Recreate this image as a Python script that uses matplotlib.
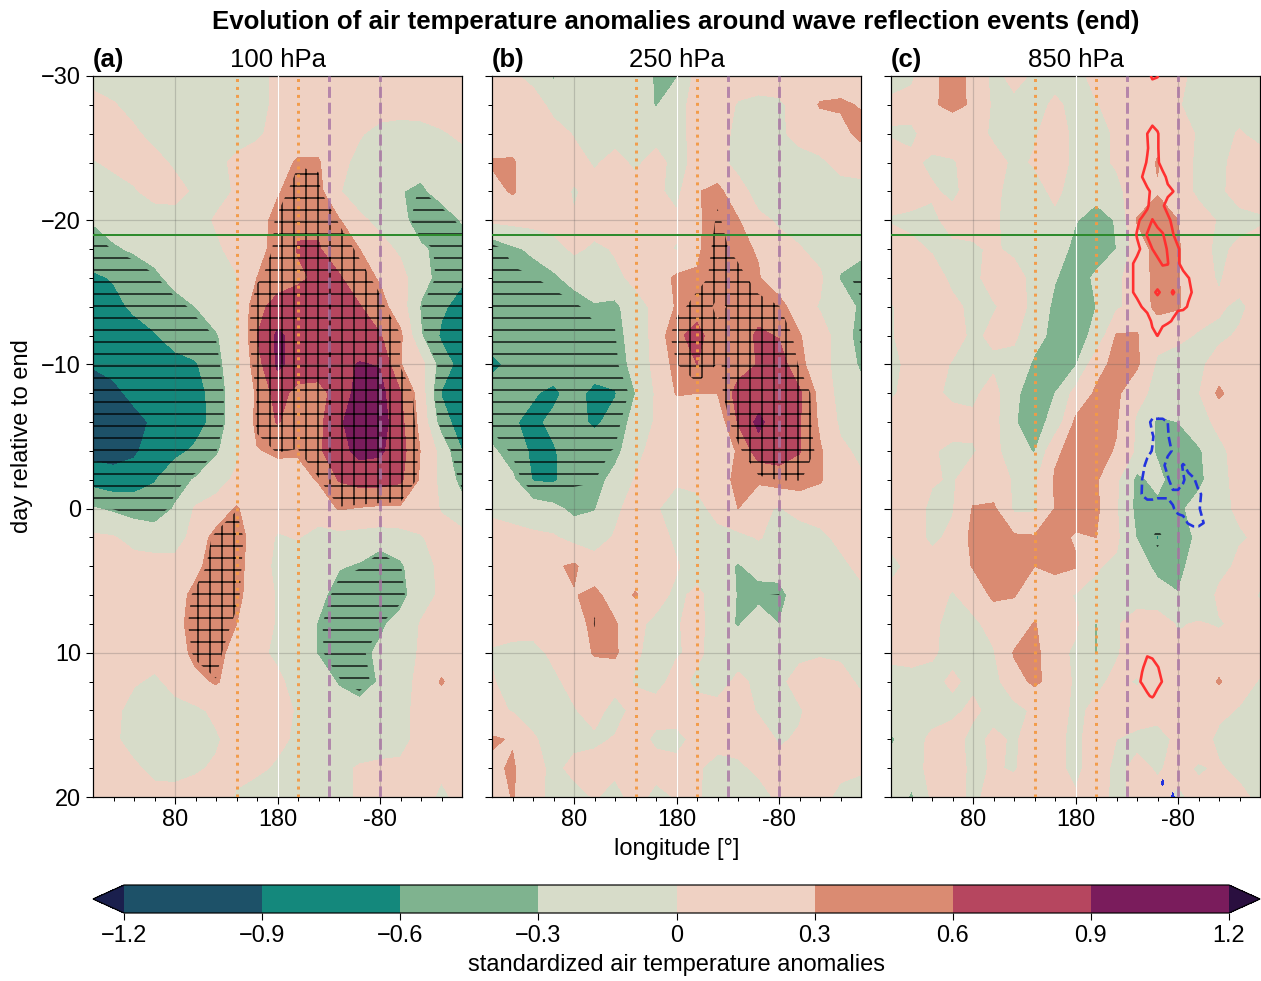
import numpy as np
import matplotlib
matplotlib.use('Agg')
import matplotlib.pyplot as plt
from matplotlib.colors import ListedColormap, BoundaryNorm

plt.rcParams['font.family'] = ['Liberation Sans', 'DejaVu Sans']
plt.rcParams['hatch.linewidth'] = 1.3
plt.rcParams['axes.linewidth'] = 1.2

lon = [0, 20, 40, 60, 80, 100, 120, 140, 160, 180, 200, 220, 240, 260, 280, 300, 320, 340, 360]
day = [-30, -28, -26, -24, -22, -20, -18, -16, -14, -12, -10, -8, -6, -4, -2, 0, 2, 4, 6, 8, 10, 12, 14, 16, 18, 20]

# 100 hPa
temp_100 = [
    [-.1, -.15, -.15, -.15, -.15, -.15, -.15, -.15, -.15, .1, .15, .15, .15, .15, .15, .15, .15, .12, -.02],
    [.1, .02, -.1, -.15, -.15, -.15, -.15, -.15, -.15, .1, .15, .2, .15, .15, .15, .15, .15, .15, .15],
    [.15, .15, .05, -.1, -.15, -.15, -.15, -.15, -.05, .1, .15, .2, .15, .03, -.1, -.15, -.12, -.03, .05],
    [-.02, .05, .12, .1, -.05, -.15, -.1, .08, .15, .2, .33, .32, .1, -.1, -.15, -.2, -.2, -.15, -.1],
    [-.12, -.1, -.03, .1, .1, -.05, -.1, .03, .15, .28, .4, .38, .02, -.15, -.18, -.29, -.35, -.2, -.15],
    [-.28, -.2, -.15, -.15, -.12, -.12, .03, .12, .22, .36, .55, .55, .32, .06, -.08, -.18, -.5, -.45, -.28],
    [-.42, -.33, -.27, -.2, -.15, -.12, -.05, .1, .22, .38, .62, .62, .45, .3, .1, -.05, -.25, -.4, -.45],
    [-.65, -.58, -.45, -.36, -.22, -.15, -.1, -.02, .3, .45, .55, .65, .63, .42, .27, .1, -.2, -.4, -.55],
    [-.72, -.68, -.55, -.48, -.4, -.3, -.15, -.03, .5, .72, .75, .75, .75, .62, .4, .15, -.33, -.55, -.72],
    [-.85, -.8, -.72, -.62, -.5, -.42, -.33, -.1, .6, .95, .8, .78, .78, .7, .62, .35, -.28, -.65, -.7],
    [-.88, -.8, -.75, -.72, -.68, -.63, -.4, -.1, .48, .95, .8, .75, .8, .92, .88, .31, .1, -.45, -.72],
    [-1.02, -.98, -.82, -.78, -.75, -.7, -.5, -.08, .35, .72, .5, .5, .72, 1.02, 1.0, .62, .15, -.62, -.88],
    [-1.08, -1.05, -1.0, -.85, -.78, -.72, -.5, -.08, .38, .62, .45, .52, .85, 1.08, 1.05, .68, .2, -.45, -.78],
    [-1.0, -1.0, -.95, -.75, -.68, -.55, -.35, -.06, .28, .35, .33, .55, .8, .98, .95, .72, .28, -.1, -.6],
    [-.72, -.8, -.75, -.62, -.4, -.28, -.1, .05, .12, .15, .2, .32, .62, .72, .72, .65, .25, -.08, -.4],
    [-.28, -.35, -.42, -.45, -.28, .03, .1, .33, .1, .1, .1, .15, .32, .28, .25, .25, .15, -.02, -.2],
    [.05, .02, -.1, -.15, -.15, .12, .4, .45, .12, -.02, .01, -.1, -.1, -.12, -.15, -.12, -.02, .1, .1],
    [.12, .12, .12, .12, .12, .22, .45, .42, .1, -.05, -.1, -.15, -.28, -.33, -.5, -.35, -.1, .05, .1],
    [.12, .15, .15, .15, .18, .38, .5, .38, .12, -.02, -.12, -.22, -.42, -.45, -.48, -.4, -.12, .05, .1],
    [.12, .12, .12, .12, .2, .42, .45, .3, .1, -.02, -.1, -.32, -.42, -.45, -.35, -.2, .02, .1, .1],
    [.12, .12, .12, .12, .15, .38, .42, .15, .06, -.05, -.15, -.32, -.4, -.38, -.25, -.12, .03, .1, .1],
    [.12, .12, .03, -.05, .08, .22, .33, .15, .1, .05, -.1, -.15, -.33, -.4, -.28, -.12, .08, .33, .1],
    [.12, .08, -.12, -.15, -.08, -.05, .05, .12, .12, .1, -.03, -.12, -.15, -.22, -.12, -.05, .05, .1, .1],
    [.12, .05, -.12, -.15, -.15, -.15, -.03, .1, .1, .05, -.04, -.12, -.12, -.12, -.12, -.08, .08, .12, .1],
    [.12, .1, .05, -.08, -.1, -.03, .03, .05, .04, -.03, -.1, -.1, -.05, .02, .05, .05, .1, .05, .1],
    [.1, .1, .1, .1, .1, .1, .1, -.02, -.1, -.1, -.12, -.1, -.08, .03, .1, .1, .1, -.05, .08],
]

# 250 hPa
temp_250 = [
    [.05, .05, -.1, -.33, -.12, -.15, -.15, -.15, -.33, -.32, .1, .15, .12, .15, .15, .2, .15, .15, .15],
    [.08, .12, .15, -.1, -.12, -.12, -.12, -.12, -.32, -.12, .12, .12, -.02, -.08, -.05, .12, .32, .34, .28],
    [.1, .15, .15, .12, -.02, -.1, -.1, -.1, -.1, -.08, .08, .08, -.05, -.1, -.06, .1, .15, .2, .38],
    [.33, .33, .15, .15, .1, -.03, .08, -.05, .1, -.1, .08, .08, -.08, -.15, -.15, -.12, -.05, .08, .1],
    [.2, .33, .15, .15, -.03, .1, .1, .1, .05, -.08, .28, .38, .1, -.1, -.15, -.25, -.12, -.1, -.08],
    [.05, .08, .1, .12, .02, .12, .12, .12, .08, .05, .25, .43, .32, .05, -.03, -.12, -.15, -.15, -.25],
    [-.5, -.35, -.25, -.12, .05, -.05, .02, .1, .1, -.02, .25, .48, .35, .28, .08, .02, -.1, -.15, -.2],
    [-.48, -.45, -.42, -.35, -.2, -.12, -.05, .05, .15, .35, .33, .48, .48, .32, .1, .08, .05, -.33, -.48],
    [-.5, -.5, -.5, -.5, -.45, -.33, -.38, -.08, .05, .33, .5, .38, .45, .48, .42, .1, -.02, -.08, -.38],
    [-.5, -.5, -.5, -.52, -.5, -.48, -.42, -.15, .08, .55, .68, .45, .45, .65, .58, .32, .1, -.1, -.45],
    [-.65, -.55, -.48, -.48, -.48, -.45, -.45, -.2, .08, .4, .6, .4, .45, .62, .75, .38, .1, -.1, -.35],
    [-.5, -.55, -.58, -.65, -.5, -.68, -.62, -.3, .03, .32, .3, .3, .72, .72, .72, .65, .2, -.1, -.2],
    [-.48, -.58, -.65, -.55, -.5, -.65, -.5, -.18, .03, .1, .05, .1, .62, .98, .7, .62, .25, -.05, -.28],
    [-.25, -.45, -.65, -.62, -.5, -.45, -.4, -.08, .1, .1, .1, .1, .33, .75, .78, .62, .33, .05, -.05],
    [-.1, -.25, -.62, -.65, -.42, -.42, -.2, .02, .05, .03, .08, .15, .38, .35, .42, .42, .33, .1, .03],
    [-.05, -.12, -.15, -.22, -.38, -.32, -.05, .1, .02, -.1, -.1, .1, .3, .05, -.02, .1, .1, .12, .25],
    [.1, .1, .05, .03, -.1, -.1, .02, .1, .1, -.05, -.1, -.1, -.08, .02, -.1, -.15, -.05, .05, .1],
    [.1, .12, .12, .25, .35, .1, .1, .1, .05, .02, -.1, -.15, -.33, -.2, -.15, -.1, -.05, -.05, .05],
    [.02, .12, .12, .12, .28, .38, .15, .33, .08, -.05, .05, -.1, -.32, -.4, -.42, -.1, -.05, -.08, -.05],
    [.08, .12, .1, .1, .1, .42, .33, .05, -.05, -.02, .08, -.15, -.33, -.12, -.3, -.1, -.1, -.1, -.1],
    [-.02, -.08, -.08, .05, .1, .33, .35, .02, -.05, -.02, .05, -.1, -.1, -.12, -.1, -.05, -.02, -.05, -.08],
    [.02, -.1, -.12, -.05, .08, .1, .1, -.02, -.08, .08, -.05, -.1, .05, -.05, -.05, .08, .1, .1, -.05],
    [.08, -.02, -.1, -.12, -.02, .1, -.1, .08, .1, .08, .08, .08, .1, -.02, -.05, -.02, .1, .3, .1],
    [.33, .28, .03, -.1, -.08, -.05, .02, .1, -.05, -.05, .05, .08, .1, .1, -.02, .02, .1, .08, .05],
    [.25, .33, .12, -.08, .08, .1, .05, .1, .1, .05, .03, -.08, -.05, .05, .05, .05, .05, .08, .03],
    [.1, .32, .12, -.1, -.1, .02, -.08, .1, -.08, .02, .02, -.08, -.08, -.1, .05, .08, .1, -.08, -.1],
]

# 850 hPa
temp_850 = [
    [-.1, -.05, .27, .35, .27, -.1, .1, -.05, -.1, -.1, .1, .12, .15, .2, .08, -.1, -.1, -.1, -.1],
    [.05, .1, .27, .36, .27, -.05, -.08, -.1, .05, -.08, -.02, .1, .15, .15, .05, -.25, -.1, -.1, -.1],
    [-.02, -.05, .12, .12, .12, -.05, -.1, -.02, .1, -.05, -.08, .03, .12, .2, .12, -.03, -.08, .02, -.08],
    [.1, .05, -.05, -.02, .08, .1, -.05, .02, .1, -.05, -.05, .02, .12, .32, .05, -.02, -.08, .12, .12],
    [.1, .1, .03, -.05, .1, .05, -.08, -.08, .05, -.1, -.2, -.05, .1, .28, .12, -.05, -.05, .1, .1],
    [-.02, -.05, -.05, .08, .08, .02, -.05, -.08, -.05, -.28, -.42, -.28, .32, .42, .3, .1, -.02, -.08, -.03],
    [.12, .05, -.02, -.05, -.03, .03, -.05, -.1, -.12, -.4, -.45, -.3, .15, .4, .33, .08, -.05, .05, .1],
    [.1, .02, .1, -.05, -.05, .08, .1, -.08, -.28, -.45, -.25, -.05, .12, .4, .32, .08, -.02, .1, .12],
    [-.02, .1, .1, .05, -.05, -.02, .08, -.05, -.38, -.42, -.3, -.05, .12, .38, .33, .1, .03, -.05, .1],
    [-.02, .1, .12, .1, -.05, .05, .05, -.2, -.38, -.38, -.25, .33, .32, .1, .05, -.02, -.05, .03, .1],
    [-.05, .05, .1, -.02, -.05, -.05, -.1, -.35, -.38, -.33, .2, .38, .34, -.05, -.1, -.05, .1, .1, .1],
    [-.02, .05, .05, -.05, -.05, .1, -.25, -.42, -.3, .1, .34, .35, .1, -.1, -.1, -.02, .36, .1, .1],
    [.08, .1, .1, .1, .05, .1, -.28, -.42, -.2, .35, .4, .32, -.05, -.35, -.3, -.08, .05, .1, .1],
    [.1, .1, .02, -.05, -.02, .1, -.2, -.32, .25, .4, .38, .28, -.05, -.35, -.45, -.35, -.05, .08, .1],
    [.1, .1, .02, -.02, .1, .1, -.02, -.05, .33, .4, .33, .05, -.38, -.2, -.5, -.4, -.05, .05, .1],
    [.1, .1, -.05, -.02, .32, .35, -.05, -.05, .31, .38, .36, .02, -.38, -.4, -.38, -.15, -.05, .03, .03],
    [.1, .1, -.05, .05, .38, .4, .35, .33, .36, .28, .3, .05, -.32, -.62, -.35, -.28, -.1, -.02, .03],
    [-.1, .1, .1, .1, .32, .38, .35, .3, .38, .32, .02, -.05, -.08, -.42, -.45, -.05, -.08, .05, .1],
    [.1, .1, .1, -.02, .1, .36, .32, .1, .1, -.02, -.05, -.08, -.08, -.12, -.28, -.2, .05, .1, -.02],
    [.1, .1, .05, -.08, -.05, .08, .1, .32, .1, .05, -.32, -.02, .08, .1, -.02, .02, -.02, .05, .1],
    [.05, .08, .02, -.05, -.08, -.02, .32, .38, .1, -.05, -.32, -.02, .1, .1, .05, .05, .1, .1, .1],
    [-.08, -.08, -.05, .03, -.05, -.1, .2, .35, .2, -.05, -.05, .05, -.02, .1, .08, .1, .33, .1, -.02],
    [-.1, -.12, -.1, -.05, .05, -.08, -.1, .05, .1, -.05, .05, .1, .1, .05, .1, .1, .05, -.02, -.05],
    [-.35, -.1, .05, .1, -.08, .05, -.03, .1, .05, -.05, .1, .0, -.05, -.05, .03, .1, -.05, -.05, -.05],
    [-.15, -.12, .08, .1, -.05, .02, -.02, .1, .05, -.05, .1, -.05, .05, -.02, .05, -.02, .02, -.05, -.05],
    [-.05, -.35, .05, .08, -.05, .08, .1, .1, .08, .02, .08, -.05, .05, .05, -.03, .05, .1, .05, -.05],
]

# red / blue line field in the 850 hPa panel
red_lon = [235, 240, 245, 250, 255, 260, 265, 270, 275, 280, 285, 290, 295]
red_day = [-30, -29, -27, -26, -25, -24, -23, -22, -21, -20, -19, -18, -17, -16, -15, -14, -13, -12, -11]
red_high = [
    [0, 0, 0, .3, 1.3, 1.1, .3, 0, 0, 0, 0, 0, 0],
    [0, 0, 0, 0, 0, 0, 0, 0, 0, 0, 0, 0, 0],
    [0, 0, 0, 0, .6, .5, 0, 0, 0, 0, 0, 0, 0],
    [0, 0, 0, 1.0, 1.5, 1.1, .5, 0, 0, 0, 0, 0, 0],
    [0, 0, 0, .9, 1.5, 1.1, .5, 0, 0, 0, 0, 0, 0],
    [0, 0, .6, 1.1, 1.5, 1.15, .6, 0, 0, 0, 0, 0, 0],
    [0, 0, 1.0, 1.5, 1.5, 1.5, 1.3, .8, 0, 0, 0, 0, 0],
    [0, 0, 0, .8, 1.2, 1.3, 1.3, 1.2, 1.05, .5, 0, 0, 0],
    [0, 0, 0, .9, 1.3, 1.4, 1.1, .7, 0, 0, 0, 0, 0],
    [0, .7, 1.3, 1.3, 2.05, 1.6, 1.3, 1.2, .8, 0, 0, 0, 0],
    [.3, 1.1, 1.4, 2.1, 2.4, 2.4, 2.1, 1.4, 1.05, .6, 0, 0, 0],
    [0, .7, 1.2, 1.4, 2.0, 2.4, 2.4, 1.9, 1.3, 1.1, .7, 0, 0],
    [.9, 1.3, 1.4, 1.4, 1.4, 1.7, 2.1, 2.05, 1.4, 1.1, .7, 0, 0],
    [.9, 1.3, 1.4, 1.4, 1.4, 1.4, 1.4, 1.4, 1.4, 1.4, 1.3, 1.05, .7],
    [.9, 1.3, 1.4, 1.5, 1.8, 2.15, 1.8, 1.6, 2.1, 1.7, 1.4, 1.2, .9],
    [0, .6, 1.05, 1.3, 1.4, 1.4, 1.4, 1.4, 1.4, 1.4, 1.3, .9, 0],
    [0, 0, 0, .6, 1.15, 1.3, 1.3, 1.2, .9, 0, 0, 0, 0],
    [0, 0, 0, 0, .8, 1.02, .5, 0, 0, 0, 0, 0, 0],
    [0, 0, 0, 0, 0, 0, 0, 0, 0, 0, 0, 0, 0],
]

red2_lon = [240, 245, 250, 255, 260, 265, 270]
red2_day = [10, 11, 12, 13, 14]
red_low = [
    [0, 0, .9, .8, 0, 0, 0],
    [0, .9, 1.3, 1.3, 1.1, .5, 0],
    [.6, 1.2, 1.3, 1.3, 1.3, .95, 0],
    [0, 0, .9, 1.1, .7, 0, 0],
    [0, 0, 0, 0, 0, 0, 0],
]

blue_lon = [240, 245, 250, 255, 260, 265, 270, 275, 280, 285, 290, 295, 300, 305, 310]
blue_day = [-7, -6, -5, -4, -3, -2, -1, 0, 1, 2]
blue_mid = [
    [0, 0, 0, 0, 0, 0, 0, 0, 0, 0, 0, 0, 0, 0, 0],
    [0, 0, -.6, -1.3, -1.3, -1.3, -1.0, -.3, 0, 0, 0, 0, 0, 0, 0],
    [0, 0, -.5, -.9, -1.4, -1.4, -1.1, -.5, 0, 0, 0, 0, 0, 0, 0],
    [0, 0, -.7, -1.05, -1.3, -1.3, -1.3, -.9, -.4, 0, 0, 0, 0, 0, 0],
    [0, -.7, -1.3, -1.3, -1.3, -1.3, -.5, -.5, -.6, -1.1, -.7, 0, 0, 0, 0],
    [-.5, -1.0, -1.3, -1.3, -1.3, -1.3, -1.2, -.3, -.3, -.9, -1.3, -1.2, -.5, 0, 0],
    [-.5, -1.05, -1.3, -1.3, -1.2, -1.2, -1.2, -1.3, -1.3, -1.3, -1.3, -1.3, -1.2, -.8, 0],
    [0, -.5, -.5, -.5, -.5, -.5, -.5, -.9, -1.3, -1.3, -1.3, -1.3, -1.1, -.7, 0],
    [0, 0, 0, 0, 0, 0, 0, 0, -.5, -.7, -1.05, -1.3, -1.3, -1.0, 0],
    [0, 0, 0, 0, 0, 0, 0, 0, 0, 0, 0, 0, 0, 0, 0],
]

blue2_lon = [260, 265, 270, 275, 280]
blue2_day = [18, 19, 20]
blue_low = [
    [0, 0, 0, 0, 0],
    [0, -1.3, 0, 0, 0],
    [0, 0, 0, -1.4, 0],
]

levels = [-1.2, -.9, -.6, -.3, 0, .3, .6, .9, 1.2]
level_labels = ['\u22121.2', '\u22120.9', '\u22120.6', '\u22120.3', '0', '0.3', '0.6', '0.9', '1.2']
colors = ['#1d5168', '#14887c', '#7fb38f', '#d7dcc9', '#efd1c3', '#da8b72', '#b6465f', '#7a1c5c']
panels = ['100 hPa', '250 hPa', '850 hPa']
letters = ['(a)', '(b)', '(c)']
fields = [temp_100, temp_250, temp_850]
hatch_limits = [.34, .41, .55]
axes_left = [93, 492, 891]

cmap = ListedColormap(colors)
cmap.set_under('#1a1f4d')
cmap.set_over('#2a0f3f')
norm = BoundaryNorm(levels, cmap.N)

W, H = 1261, 981
fig = plt.figure(figsize=(W / 72, H / 72), dpi=72)

for i in range(3):
    ax = fig.add_axes([axes_left[i] / W, 1 - 797 / H, 369 / W, 721 / H])
    cs = ax.contourf(lon, day, np.array(fields[i]), levels=levels, cmap=cmap, norm=norm, extend='both')
    ax.contourf(lon, day, np.array(fields[i]), levels=[-9, -hatch_limits[i], hatch_limits[i], 9],
                colors='none', hatches=['-', None, '+'])
    ax.grid(True, which='major', color='#555555', alpha=.25, lw=1.2)
    ax.set_axisbelow(False)
    ax.axvline(180, color='white', lw=1.2, zorder=3)

    # reference lines
    ax.axvline(140, color='#f39a45', ls=':', lw=3, zorder=4, alpha=.95)
    ax.axvline(200, color='#f39a45', ls=':', lw=3, zorder=4, alpha=.95)
    ax.axvline(230, color='#a874a4', ls='--', lw=3, zorder=4, alpha=.8)
    ax.axvline(280, color='#a874a4', ls='--', lw=3, zorder=4, alpha=.8)
    ax.axhline(-19, color='#2e8b2e', lw=2, zorder=4)

    if i == 2:
        ax.contour(red_lon, red_day, np.array(red_high), levels=[1, 2], colors='#ff3030', linewidths=2.6, zorder=5)
        ax.contour(red2_lon, red2_day, np.array(red_low), levels=[1], colors='#ff3030', linewidths=2.6, zorder=5)
        ax.contour(blue_lon, blue_day, np.array(blue_mid), levels=[-1], colors='#2233dd', linewidths=2.6,
                   linestyles='--', zorder=5)
        ax.contourf(blue2_lon, blue2_day, np.array(blue_low), levels=[-9, -1], colors='#2233dd', zorder=5)

    ax.set_xlim(0, 360)
    ax.set_ylim(20, -30)
    ax.set_xticks([80, 180, 280])
    ax.set_xticklabels(['80', '180', '-80'])
    ax.set_xticks([20, 40, 60, 100, 120, 140, 160, 200, 220, 240, 260, 300, 320, 340], minor=True)
    ax.set_yticks([-30, -20, -10, 0, 10, 20])
    ax.set_yticks([-28, -26, -24, -22, -18, -16, -14, -12, -8, -6, -4, -2, 2, 4, 6, 8, 12, 14, 16, 18], minor=True)
    if i == 0:
        ax.set_yticklabels(['\u221230', '\u221220', '\u221210', '0', '10', '20'])
        ax.set_ylabel('day relative to end', fontsize=23.6, labelpad=8)
    else:
        ax.set_yticklabels([])
    if i == 1:
        ax.set_xlabel('longitude [\u00b0]', fontsize=23.6, labelpad=7)
    ax.tick_params(which='major', length=7, width=1.1, labelsize=23.5, pad=5)
    ax.tick_params(which='minor', length=4, width=1.0)
    ax.text(0.5, 1.006, panels[i], transform=ax.transAxes, ha='center', va='bottom', fontsize=25.8)
    ax.text(0, 1.006, letters[i], transform=ax.transAxes, ha='left', va='bottom', fontsize=25.8, fontweight='bold')

fig.text(676 / W, 1 - 22 / H, 'Evolution of air temperature anomalies around wave reflection events (end)',
         ha='center', va='center', fontsize=25.9, fontweight='bold')

cax = fig.add_axes([93 / W, 1 - 913 / H, 1167 / W, 28 / H])
cb = fig.colorbar(cs, cax=cax, orientation='horizontal', ticks=levels, extendfrac=31 / 1105, drawedges=False)
cb.ax.set_xticklabels(level_labels)
cb.ax.tick_params(length=7, width=1.1, labelsize=23.5, pad=5)
cb.ax.minorticks_off()
cb.set_label('standardized air temperature anomalies', fontsize=23.6, labelpad=7)
cb.outline.set_linewidth(1.2)

fig.savefig('out.png', dpi=72)
